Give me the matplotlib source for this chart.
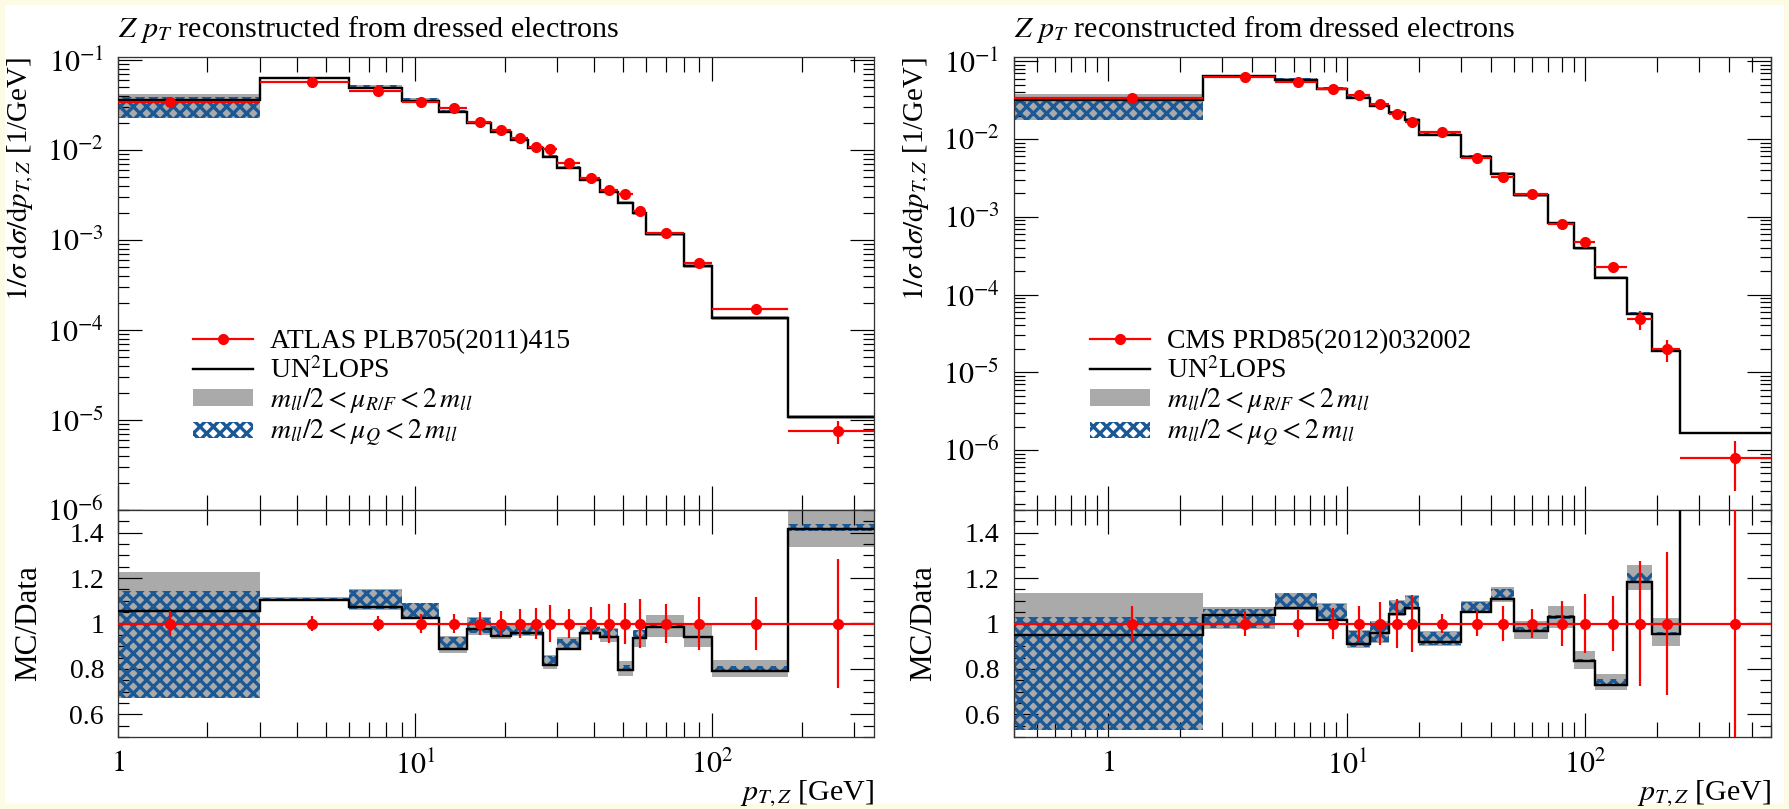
import numpy as np
import matplotlib
matplotlib.use("Agg")
import matplotlib.pyplot as plt
from matplotlib.lines import Line2D
from matplotlib.patches import Patch, Rectangle
from matplotlib.ticker import LogLocator, MultipleLocator, FuncFormatter, NullFormatter

plt.rcParams['font.family'] = ['Liberation Serif', 'DejaVu Serif']
plt.rcParams['mathtext.fontset'] = 'stix'
plt.rcParams['hatch.linewidth'] = 3.0

# ---- ATLAS PLB705(2011)415 ----
atlas_edges = [0, 3, 6, 9, 12, 15, 18, 21, 24, 27, 30, 36, 42, 48, 54, 60, 80, 100, 180, 350]
atlas_data = [0.0339, 0.0574, 0.0456, 0.0344, 0.0295, 0.0206, 0.0167, 0.0135, 0.0109, 0.0102,
              0.00711, 0.00484, 0.00359, 0.00324, 0.00212, 0.00119, 0.000551, 0.000170, 7.6e-6]
atlas_relerr = [0.056, 0.033, 0.033, 0.04, 0.04, 0.05, 0.055, 0.062, 0.068, 0.08,
                0.066, 0.072, 0.086, 0.09, 0.107, 0.087, 0.115, 0.118, 0.285]
atlas_mc_ratio = [1.055, 1.104, 1.074, 1.025, 0.886, 0.975, 0.945, 0.956, 0.956, 0.819,
                  0.889, 0.956, 0.941, 0.797, 0.936, 0.985, 0.941, 0.790, 1.415]
atlas_gray_lo = [0.671, 1.097, 1.059, 1.018, 0.871, 0.948, 0.93, 0.945, 0.945, 0.80,
                 0.885, 0.95, 0.92, 0.767, 0.896, 0.941, 0.896, 0.763, 1.336]
atlas_gray_hi = [1.225, 1.118, 1.153, 1.092, 0.945, 1.028, 0.995, 0.995, 0.995, 0.86,
                 0.94, 0.99, 0.98, 0.833, 0.97, 1.037, 1.0, 0.841, 1.499]
atlas_hatch_lo = [0.671, 1.10, 1.064, 1.022, 0.886, 0.956, 0.94, 0.95, 0.95, 0.815,
                  0.889, 0.956, 0.94, 0.797, 0.936, 0.98, 0.935, 0.785, 1.407]
atlas_hatch_hi = [1.144, 1.112, 1.148, 1.089, 0.941, 1.025, 0.99, 0.99, 0.99, 0.859,
                  0.933, 0.985, 0.975, 0.818, 0.97, 0.993, 0.945, 0.812, 1.437]

# ---- CMS PRD85(2012)032002 ----
cms_edges = [0, 2.5, 5, 7.5, 10, 12.5, 15, 17.5, 20, 30, 40, 50, 70, 90, 110, 150, 190, 250, 600]
cms_data = [0.0334, 0.0623, 0.0547, 0.0436, 0.0372, 0.0280, 0.0210, 0.0164, 0.0124,
            0.00565, 0.00322, 0.00196, 0.000805, 0.000468, 0.000223, 4.82e-5, 2.0e-5, 7.96e-7]
cms_relerr = [0.078, 0.053, 0.06, 0.07, 0.078, 0.094, 0.11, 0.125, 0.042,
              0.055, 0.077, 0.062, 0.1, 0.13, 0.122, 0.275, 0.315, 0.63]
cms_mc_ratio = [0.948, 1.037, 1.067, 1.015, 0.911, 0.956, 1.04, 1.067, 0.919,
                1.052, 1.108, 0.966, 1.027, 0.837, 0.730, 1.181, 0.953, 2.1]
cms_gray_lo = [0.53, 0.975, 1.06, 1.01, 0.893, 0.915, 1.035, 1.06, 0.90,
               1.045, 1.096, 0.93, 0.981, 0.80, 0.708, 1.148, 0.90, 2.04]
cms_gray_hi = [1.133, 1.074, 1.135, 1.09, 0.97, 1.013, 1.103, 1.126, 0.966,
               1.10, 1.159, 1.01, 1.077, 0.881, 0.778, 1.256, 1.025, 2.16]
cms_hatch_lo = [0.53, 0.981, 1.067, 1.015, 0.896, 0.919, 1.04, 1.067, 0.904,
                1.052, 1.108, 0.963, 1.022, 0.83, 0.733, 1.181, 0.948, 2.08]
cms_hatch_hi = [1.027, 1.064, 1.133, 1.086, 0.966, 1.01, 1.099, 1.123, 0.963,
                1.096, 1.153, 0.985, 1.037, 0.842, 0.756, 1.222, 0.963, 2.12]

W, H, DPI = 1789, 809, 80
PT = 72.0 / DPI          # points per pixel
FS = 25                  # base font size in pt
GRAY = '#aaaaaa'
BLUE = '#1b5896'

def px(v):
    return v * PT

def xfmt(v, pos):
    e = int(round(np.log10(v)))
    if e == 0:
        return '$1$'
    return r'$10^{%d}$' % e

def yfmt(v, pos):
    return r'$10^{%d}$' % int(round(np.log10(v)))

fig = plt.figure(figsize=(W / DPI, H / DPI), dpi=DPI, facecolor='#fdfbe3')
fig.patches.append(Rectangle((5 / W, 5 / H), 1 - 10 / W, 1 - 10 / H, transform=fig.transFigure,
                             facecolor='white', edgecolor='none', zorder=-10))


def draw_panel(x0, x1, edges, data, relerr, ratio, g_lo, g_hi, h_lo, h_hi,
               xlim, ylim, label, leg_x, ylab_x, rlab_x):
    ax = fig.add_axes([x0 / W, 1 - 510 / H, (x1 - x0) / W, 453 / H])
    rax = fig.add_axes([x0 / W, 1 - 737 / H, (x1 - x0) / W, 227 / H], sharex=ax)

    edges = np.array(edges, float)
    data = np.array(data)
    relerr = np.array(relerr)
    ratio = np.array(ratio)
    g_lo, g_hi = np.array(g_lo), np.array(g_hi)
    h_lo, h_hi = np.array(h_lo), np.array(h_hi)
    centers = 0.5 * (edges[:-1] + edges[1:])
    half = 0.5 * np.diff(edges)

    for a, scale in ((ax, data), (rax, np.ones_like(data))):
        a.stairs(g_hi * scale, edges, baseline=g_lo * scale, fill=True,
                 facecolor=GRAY, edgecolor='none', lw=0, zorder=1)
        a.stairs(h_hi * scale, edges, baseline=h_lo * scale, fill=True,
                 facecolor='none', edgecolor=BLUE, hatch='xx', lw=0, zorder=2)
        a.stairs(ratio * scale, edges, baseline=None, color='black', lw=px(2.4), zorder=3)
        a.errorbar(centers, scale, xerr=half, yerr=relerr * scale, fmt='o', color='red',
                   ms=px(10), elinewidth=px(2.2), capsize=0, zorder=4)

    ax.set_xscale('log')
    ax.set_yscale('log')
    ax.set_xlim(*xlim)
    ax.set_ylim(*ylim)
    rax.set_ylim(0.5, 1.5)

    ax.xaxis.set_major_locator(LogLocator(base=10, numticks=20))
    ax.xaxis.set_minor_locator(LogLocator(base=10, subs=np.arange(2, 10), numticks=100))
    ax.xaxis.set_major_formatter(FuncFormatter(xfmt))
    ax.xaxis.set_minor_formatter(NullFormatter())
    ax.yaxis.set_major_locator(LogLocator(base=10, numticks=20))
    ax.yaxis.set_minor_locator(LogLocator(base=10, subs=np.arange(2, 10), numticks=100))
    ax.yaxis.set_major_formatter(FuncFormatter(yfmt))
    ax.yaxis.set_minor_formatter(NullFormatter())
    rax.yaxis.set_major_locator(MultipleLocator(0.2))
    rax.yaxis.set_minor_locator(MultipleLocator(0.05))
    rax.yaxis.set_major_formatter(FuncFormatter(lambda v, p: '%g' % round(v, 2)))

    for a in (ax, rax):
        a.tick_params(which='both', direction='in', top=True, right=True,
                      width=px(1.2), labelsize=FS + 2, pad=px(14))
        a.tick_params(which='major', length=px(24))
        a.tick_params(axis='x', which='minor', length=px(15))
        a.tick_params(axis='y', which='minor', length=px(11))
        for s in a.spines.values():
            s.set_linewidth(px(1.3))
            s.set_color('#333333')
    ax.tick_params(labelbottom=False)
    rax.tick_params(axis='y', labelsize=FS)

    ax.set_title(r'$Z$ $p_T$ reconstructed from dressed electrons', loc='left',
                 pad=px(20), fontsize=FS + 2)
    ax.set_ylabel(r'$1/\sigma\;\mathrm{d}\sigma/\mathrm{d}p_{T,Z}$ [1/GeV]', loc='top', fontsize=FS + 1)
    ax.yaxis.set_label_coords(ylab_x, 1.0)
    rax.set_ylabel('MC/Data', fontsize=FS + 3)
    rax.yaxis.set_label_coords(rlab_x, 0.5)
    rax.set_xlabel(r'$p_{T,Z}$ [GeV]', loc='right', fontsize=FS + 2)
    rax.xaxis.set_label_coords(1.0, -0.185)

    handles = [
        Line2D([], [], color='red', marker='o', ms=px(10), lw=px(2.2)),
        Line2D([], [], color='black', lw=px(2.4)),
        Patch(facecolor=GRAY, edgecolor='none'),
        Patch(facecolor='white', edgecolor=BLUE, hatch='xx', lw=0),
    ]
    labels = [label, r'UN$^2$LOPS',
              r'$m_{ll}/2 < \mu_{R/F} < 2\,m_{ll}$',
              r'$m_{ll}/2 < \mu_{Q} < 2\,m_{ll}$']
    ax.legend(handles, labels, loc='upper left', bbox_to_anchor=(leg_x / W, 1 - 329 / H),
              bbox_transform=fig.transFigure, frameon=False, fontsize=FS,
              handlelength=60 / (FS / PT), handleheight=0.55, handletextpad=0.6,
              labelspacing=0.1, borderpad=0, borderaxespad=0)
    return ax, rax


draw_panel(118, 874, atlas_edges, atlas_data, atlas_relerr, atlas_mc_ratio,
           atlas_gray_lo, atlas_gray_hi, atlas_hatch_lo, atlas_hatch_hi,
           (1, 350), (1e-6, 0.108), 'ATLAS PLB705(2011)415', 193, -0.108, -0.099)
draw_panel(1013.5, 1771, cms_edges, cms_data, cms_relerr, cms_mc_ratio,
           cms_gray_lo, cms_gray_hi, cms_hatch_lo, cms_hatch_hi,
           (0.4, 600), (1.69e-7, 0.114), 'CMS PRD85(2012)032002', 1090, -0.108, -0.1)

fig.savefig('out.png', dpi=DPI, facecolor=fig.get_facecolor())
